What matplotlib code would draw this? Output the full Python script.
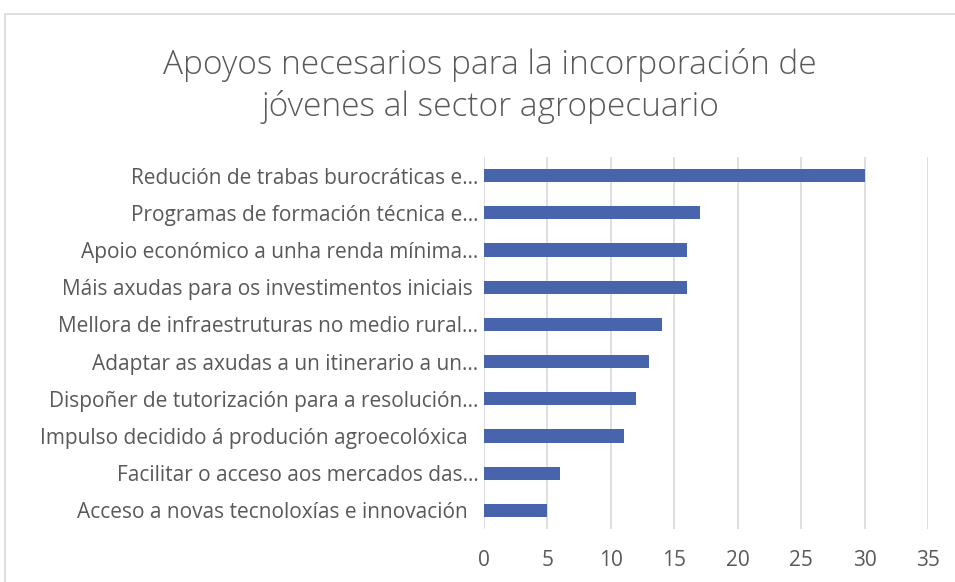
import numpy as np
import matplotlib.pyplot as plt
from matplotlib.patches import Rectangle

# datos (de arriba a abaixo)
labels = [
    "Redución de trabas burocráticas e…",
    "Programas de formación técnica e…",
    "Apoio económico a unha renda mínima…",
    "Máis axudas para os investimentos iniciais ",
    "Mellora de infraestruturas no medio rural…",
    "Adaptar as axudas a un itinerario a un…",
    "Dispoñer de tutorización para a resolución…",
    "Impulso decidido á produción agroecolóxica  ",
    "Facilitar o acceso aos mercados das…",
    "Acceso a novas tecnoloxías e innovación  ",
]
values = [30, 17, 16, 16, 14, 13, 12, 11, 6, 5]
xticks = [0, 5, 10, 15, 20, 25, 30, 35]

plt.rcParams['font.family'] = ['Open Sans', 'DejaVu Sans']

fig = plt.figure(figsize=(9.55, 5.82), dpi=100)
fig.patches.append(Rectangle((5 / 955, -0.1), 1.2, 1 - 14 / 582 + 0.1,
                             transform=fig.transFigure, fill=False,
                             edgecolor='#d9d9d9', linewidth=1.2))

ax = fig.add_axes([484 / 955, 1 - 529 / 582, 444 / 955, 372 / 582])
pos = np.arange(len(labels))[::-1]
ax.barh(pos, values, height=0.35, color='#4864ac', zorder=3)
ax.set_ylim(-0.5, len(labels) - 0.5)
ax.set_xlim(0, 35)
ax.set_xticks(xticks)
ax.set_yticks(pos)
ax.set_yticklabels(labels)
ax.tick_params(axis='both', length=0, labelsize=15, colors='#595959')
ax.tick_params(axis='x', pad=15)
ax.tick_params(axis='y', pad=4)
ax.grid(axis='x', color='#d9d9d9', linewidth=1.2, zorder=0)
for s in ax.spines.values():
    s.set_visible(False)

fig.text(490 / 955, 1 - 86 / 582, "Apoyos necesarios para la incorporación de\njóvenes al sector agropecuario",
         ha='center', va='center', fontsize=24, color='#595959',
         fontweight='light', linespacing=1.3)

fig.savefig('out.png', dpi=100)
